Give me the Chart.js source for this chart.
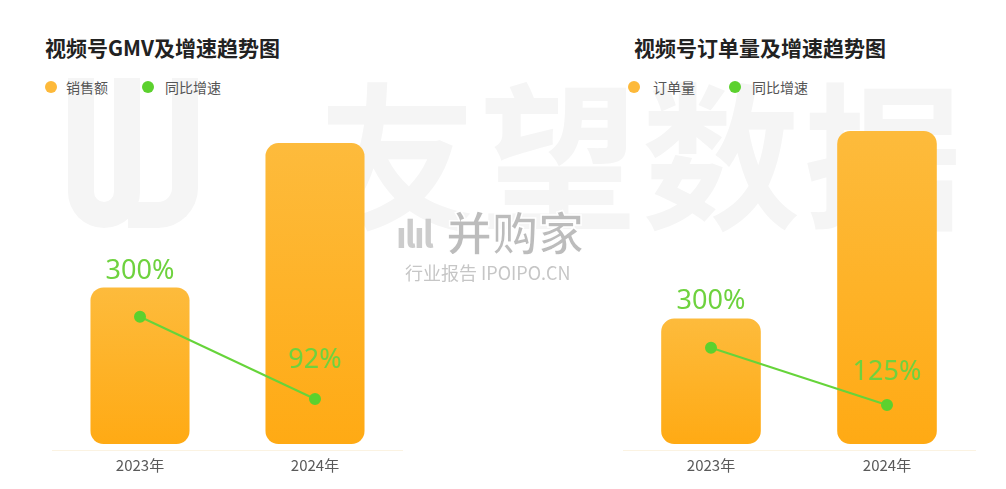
<!DOCTYPE html>
<html>
<head>
<meta charset="utf-8">
<script src="https://cdn.jsdelivr.net/npm/chart.js@4"></script>
<style>
  html,body{margin:0;padding:0;background:#fff;}
  body{width:1006px;height:489px;position:relative;overflow:hidden;font-family:"Noto Sans CJK SC","Noto Sans",sans-serif;}
  .abs{position:absolute;}
  .title{font-size:21px;font-weight:bold;color:#222;line-height:1;white-space:nowrap;}
  .leg{font-size:14px;color:#555;line-height:1;white-space:nowrap;}
  .dot{width:12px;height:12px;border-radius:50%;}
  .wm{color:#f5f5f5;font-weight:bold;font-size:158px;line-height:1;white-space:nowrap;z-index:0;}
  canvas{position:absolute;top:0;z-index:1;}
  .ipo{z-index:5;color:#c4c4c4;white-space:nowrap;line-height:1;}
</style>
</head>
<body>
<!-- background watermark -->
<div class="abs" style="left:68px;top:78px;width:72px;height:150px;border:26px solid #f5f5f5;border-top:none;border-radius:0 0 60px 60px;box-sizing:border-box;z-index:0"></div>
<div class="abs" style="left:128px;top:78px;width:70px;height:150px;border:26px solid #f5f5f5;border-top:none;border-left:none;border-radius:0 0 40px 0;box-sizing:border-box;z-index:0"></div>
<div class="abs wm" style="left:318px;top:70px;letter-spacing:4px">友望数据</div>

<div class="abs title" style="left:45px;top:37px">视频号GMV及增速趋势图</div>
<div class="abs dot" style="left:45px;top:81px;background:#FDB93A"></div>
<div class="abs leg" style="left:66px;top:80px">销售额</div>
<div class="abs dot" style="left:142px;top:81px;background:#5CD12E"></div>
<div class="abs leg" style="left:165px;top:80px">同比增速</div>

<div class="abs title" style="left:634px;top:37px">视频号订单量及增速趋势图</div>
<div class="abs dot" style="left:628px;top:81px;background:#FDB93A"></div>
<div class="abs leg" style="left:653px;top:80px">订单量</div>
<div class="abs dot" style="left:729px;top:81px;background:#5CD12E"></div>
<div class="abs leg" style="left:752px;top:80px">同比增速</div>

<canvas id="c1" width="503" height="489" style="left:0"></canvas>
<canvas id="c2" width="503" height="489" style="left:503px"></canvas>

<!-- foreground watermark -->
<div class="abs ipo" style="left:446px;top:207px;font-size:46px;font-weight:bold;-webkit-text-stroke:1.5px #fff;color:#bcbcbc">并购家</div>
<div class="abs ipo" style="left:396px;top:214px;font-size:36px;color:#cccccc;letter-spacing:-2px;font-weight:bold">ılıl</div>
<div class="abs ipo" style="left:405px;top:263px;font-size:18px;color:#c6c6c6">行业报告 IPOIPO.CN</div>

<script>
// ---- data ----
const years = ["2023年", "2024年"];
const gmvValues = [156, 300];          // 销售额 (relative)
const gmvGrowth = [300, 92];           // 同比增速 %
const orderValues = [125, 312];        // 订单量 (relative)
const orderGrowth = [300, 125];        // 同比增速 %
const gmvLabelOffsets = [-45, -39];
const orderLabelOffsets = [-46, -33];

function barGradient(ctx) {
  const area = ctx.chart.chartArea;
  if (!area) return '#FDB93A';
  const y0 = ctx.chart.scales.y.getPixelForValue(ctx.raw);
  const y1 = ctx.chart.scales.y.getPixelForValue(0);
  const g = ctx.chart.ctx.createLinearGradient(0, y0, 0, y1);
  g.addColorStop(0, '#FDBB3C');
  g.addColorStop(1, '#FFAA14');
  return g;
}

const labelPlugin = {
  id: 'growthLabels',
  afterDatasetsDraw(chart, args, opts) {
    const meta = chart.getDatasetMeta(1);
    const ds = chart.data.datasets[1];
    const c = chart.ctx;
    c.save();
    c.font = '27px "Noto Sans", sans-serif';
    c.fillStyle = '#6ED23E';
    c.textAlign = 'center';
    c.textBaseline = 'middle';
    meta.data.forEach((pt, i) => {
      c.fillText(ds.data[i] + '%', pt.x, pt.y + opts.offsets[i]);
    });
    c.restore();
  }
};

function makeChart(id, values, growth, offsets, pad, y2min, y2max) {
  new Chart(document.getElementById(id), {
    data: {
      labels: years,
      datasets: [
        {
          type: 'bar', data: values, yAxisID: 'y', order: 2,
          backgroundColor: barGradient,
          borderRadius: 13, borderSkipped: false,
          barPercentage: 0.566, categoryPercentage: 1
        },
        {
          type: 'line', data: growth, yAxisID: 'y2', order: 1,
          borderColor: '#66D43A', borderWidth: 2,
          pointBackgroundColor: '#5CD12E', pointBorderColor: '#5CD12E',
          pointRadius: 5, tension: 0
        }
      ]
    },
    options: {
      responsive: false, animation: false,
      layout: { padding: pad },
      plugins: { legend: { display: false }, tooltip: { enabled: false }, growthLabels: { offsets } },
      scales: {
        x: {
          grid: { display: false, drawTicks: false },
          border: { display: true, color: '#FBF3E2', width: 1 },
          ticks: { color: '#5a5a5a', font: { size: 15, family: '"Noto Sans CJK SC", sans-serif' }, padding: 6 }
        },
        y: { display: false, min: -6, max: 333 },
        y2: { display: false, min: y2min, max: y2max }
      }
    },
    plugins: [labelPlugin]
  });
}

makeChart('c1', gmvValues, gmvGrowth, gmvLabelOffsets, { left: 52.5, right: 100.5, top: 110, bottom: 9 }, -37, 823);
makeChart('c2', orderValues, orderGrowth, orderLabelOffsets, { left: 120, right: 31, top: 110, bottom: 9 }, -13, 1028);
</script>
</body>
</html>
